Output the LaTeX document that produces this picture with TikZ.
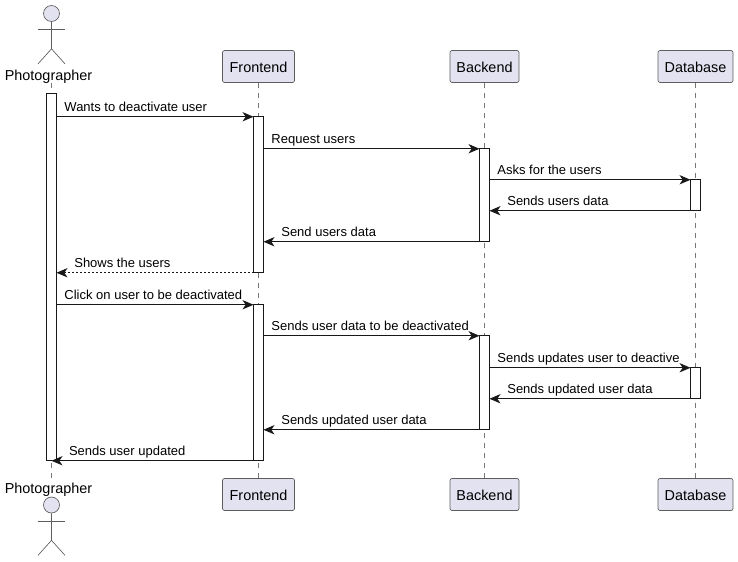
\documentclass[tikz,border=0pt]{standalone}
\usepackage{fontspec}
\setmainfont{Liberation Sans}
\usepackage{xcolor}
\usetikzlibrary{arrows.meta, calc, positioning}

\definecolor{boxfill}{HTML}{E2E2F0}
\definecolor{inkline}{HTML}{181818}
\definecolor{lifegray}{HTML}{777777}
\def\px{0.75pt}

\begin{document}
\begin{tikzpicture}[
    x=0.75pt, y=-0.75pt,
    party/.style={draw=inkline!70, fill=boxfill, rounded corners=1.5pt, line width=0.5pt,
                  minimum height=32*\px, inner sep=0pt, text height=9.3pt, text depth=0pt,
                  font=\fontsize{10.8pt}{12pt}\selectfont},
    actorname/.style={font=\fontsize{10.8pt}{12pt}\selectfont, inner sep=0pt},
    head/.style={circle, draw=inkline!70, fill=boxfill, minimum size=16*\px, inner sep=0pt, line width=0.5pt},
    limb/.style={draw=inkline!70, line width=0.5pt},
    lifeline/.style={draw=lifegray, line width=0.5pt, dash pattern=on 3.75pt off 3.75pt},
    lifebar/.style={draw=inkline, fill=white, line width=0.75pt, minimum width=10*\px,
                    inner sep=0pt, outer sep=0pt},
    msg/.style={-{Stealth[length=8.25pt, width=7pt, inset=2.4pt]}, draw=inkline, line width=0.75pt},
    reply/.style={msg, dash pattern=on 1.5pt off 1.5pt},
    msglabel/.style={font=\fontsize{9.75pt}{11pt}\selectfont, inner sep=0pt, anchor=base west, yshift=4pt},
]
\useasboundingbox (0,0) rectangle (738,561);

% top row
\node[head] (photoHead) at (51.5,13.5) {};
\node[actorname] (photoName) at (48.5,76.5) {Photographer};
\node[party, minimum width=72*\px] (frontTop) at (258.5,66.5) {Frontend};
\node[party, minimum width=69*\px] (backTop) at (484.5,66.5) {Backend};
\node[party, minimum width=75*\px] (dbTop) at (695.5,66.5) {Database};

% bottom row
\node[actorname] (photoNameB) at (48.5,489.5) {Photographer};
\node[head] (photoHeadB) at (51.5,505) {};
\node[party, minimum width=72*\px] (frontBot) at (258.5,494.5) {Frontend};
\node[party, minimum width=69*\px] (backBot) at (484.5,494.5) {Backend};
\node[party, minimum width=75*\px] (dbBot) at (695.5,494.5) {Database};

% actor figures
\draw[limb] (photoHead.south) -- ++(0,27) coordinate (photoHip) -- ++(-13.5,15);
\draw[limb] (photoHip) -- ++(13.5,15);
\draw[limb] ($(photoHead.south)+(-13.5,7.5)$) -- ++(27,0);
\draw[limb] (photoHeadB.south) -- ++(0,27) coordinate (photoHipB) -- ++(-13.5,15);
\draw[limb] (photoHipB) -- ++(13.5,15);
\draw[limb] ($(photoHeadB.south)+(-13.5,7.5)$) -- ++(27,0);

% lifelines
\draw[lifeline] (photoHead |- photoName.south) -- (photoHead |- photoNameB.north);
\draw[lifeline] (frontTop.south) -- (frontBot.north);
\draw[lifeline] (backTop.south) -- (backBot.north);
\draw[lifeline] (dbTop.south) -- (dbBot.north);

% activation bars
\node[lifebar, minimum height=367*\px] (photoBar) at (51.5,277.25) {};
\node[lifebar, minimum height=156*\px] (frontBarA) at (258.5,194.75) {};
\node[lifebar, minimum height=156*\px] (frontBarB) at (258.5,382.75) {};
\node[lifebar, minimum height=93*\px] (backBarA) at (484.5,195.25) {};
\node[lifebar, minimum height=94*\px] (backBarB) at (484.5,382.75) {};
\node[lifebar, minimum height=31*\px] (dbBarA) at (695.5,195.25) {};
\node[lifebar, minimum height=31*\px] (dbBarB) at (695.5,383.25) {};

% messages
\draw[msg] (photoBar.east |- frontBarA.north) -- (frontBarA.north west)
    node[msglabel, pos=0, xshift=5.6pt] {Wants to deactivate user};
\draw[msg] (frontBarA.east |- backBarA.north) -- (backBarA.north west)
    node[msglabel, pos=0, xshift=5.6pt] {Request users};
\draw[msg] (backBarA.east |- dbBarA.north) -- (dbBarA.north west)
    node[msglabel, pos=0, xshift=5.6pt] {Asks for the users};
\draw[msg] (dbBarA.south west) -- (backBarA.east |- dbBarA.south)
    node[msglabel, pos=1, xshift=13pt] {Sends users data};
\draw[msg] (backBarA.south west) -- (frontBarA.east |- backBarA.south)
    node[msglabel, pos=1, xshift=13pt] {Send users data};
\draw[reply] (frontBarA.south west) -- (photoBar.east |- frontBarA.south)
    node[msglabel, pos=1, xshift=13pt] {Shows the users};
\draw[msg] (photoBar.east |- frontBarB.north) -- (frontBarB.north west)
    node[msglabel, pos=0, xshift=5.6pt] {Click on user to be deactivated};
\draw[msg] (frontBarB.east |- backBarB.north) -- (backBarB.north west)
    node[msglabel, pos=0, xshift=5.6pt] {Sends user data to be deactivated};
\draw[msg] (backBarB.east |- dbBarB.north) -- (dbBarB.north west)
    node[msglabel, pos=0, xshift=5.6pt] {Sends updates user to deactive};
\draw[msg] (dbBarB.south west) -- (backBarB.east |- dbBarB.south)
    node[msglabel, pos=1, xshift=13pt] {Sends updated user data};
\draw[msg] (backBarB.south west) -- (frontBarB.east |- backBarB.south)
    node[msglabel, pos=1, xshift=13pt] {Sends updated user data};
\draw[msg] (frontBarB.south west) -- (photoBar.south)
    node[msglabel, pos=1, xshift=12.75pt] {Sends user updated};
\end{tikzpicture}
\end{document}
